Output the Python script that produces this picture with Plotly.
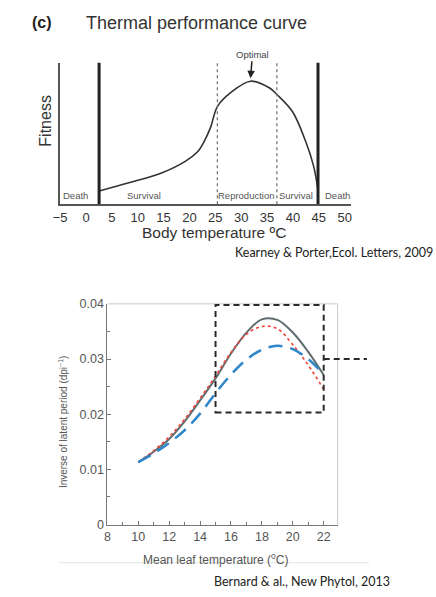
import plotly.graph_objects as go

W, H = 436, 597

# ---------- Data: thermal performance curve (top panel) ----------
body_temp = [2.53, 8.3, 14.6, 19.1, 21.6, 22.9, 24.1, 25.4, 27.9, 31.8, 35.5, 37.0, 39.9, 42.4, 44.0, 44.8]
fitness = [0.094, 0.152, 0.221, 0.301, 0.372, 0.448, 0.545, 0.69, 0.786, 0.869, 0.821, 0.772, 0.655, 0.45, 0.269, 0.11]
top_ticks = [-5, 0, 5, 10, 15, 20, 25, 30, 35, 40, 45, 50]
top_tick_text = ["\u22125", "0", "5", "10", "15", "20", "25", "30", "35", "40", "45", "50"]
ct_min, ct_max = 2.53, 44.85          # critical thermal limits (thick lines)
repro_lo, repro_hi = 25.4, 36.9       # reproduction window (dotted lines)
t_optimal, f_optimal = 31.8, 0.89
zone_labels = ["Death", "Survival", "Reproduction", "Survival", "Death"]
zone_x = [-2.0, 11.3, 31.0, 40.5, 48.6]

# ---------- Data: inverse latent period (bottom panel) ----------
leaf_temp = [10, 11, 12, 13, 14, 15, 16, 17, 18, 19, 20, 21, 22]
solid_vals = [0.0113, 0.0132, 0.0155, 0.0187, 0.0225, 0.0265, 0.0310, 0.0348, 0.0372, 0.0371, 0.0348, 0.0313, 0.0271]
dotted_vals = [0.0113, 0.0134, 0.0159, 0.0191, 0.0229, 0.0269, 0.0312, 0.0345, 0.0359, 0.0355, 0.0326, 0.0289, 0.0245]
dashed_vals = [0.0113, 0.0129, 0.0148, 0.0171, 0.0201, 0.0238, 0.0272, 0.0299, 0.0317, 0.0324, 0.0318, 0.0300, 0.0272]
bot_xticks = [8, 10, 12, 14, 16, 18, 20, 22]
bot_yticks = [0, 0.01, 0.02, 0.03, 0.04]
bot_ytick_text = ["0", "0.01", "0.02", "0.03", "0.04"]
box_x = [15, 22]
box_y = [0.0203, 0.0398]
ref_level = 0.03

# ---------- Layout geometry (page pixel -> paper) ----------
def px(x):
    return x / W

def py(y):
    return 1 - y / H

top_xrange = [-5, 51.3]
bot_xrange = [8, 22.9]
top_xdom = [px(54), px(350)]
top_ydom = [py(202), py(57)]
bot_xdom = [px(102), px(336)]
bot_ydom = [py(530), py(304)]

FONT = "Liberation Sans, Arial, Helvetica, sans-serif"
REF_FONT = "Lato, Open Sans, sans-serif"

fig = go.Figure()

fig.add_trace(go.Scatter(
    x=body_temp, y=fitness, mode="lines", line=dict(color="#333333", width=1.6, shape="spline", smoothing=1.0),
    xaxis="x", yaxis="y", showlegend=False, hoverinfo="skip"))

fig.add_trace(go.Scatter(
    x=leaf_temp, y=solid_vals, mode="lines", line=dict(color="#5f6d70", width=2, shape="spline"),
    xaxis="x2", yaxis="y2", showlegend=False))
fig.add_trace(go.Scatter(
    x=leaf_temp, y=dotted_vals, mode="lines", line=dict(color="#ee4a3f", width=1.7, dash="dot", shape="spline"),
    xaxis="x2", yaxis="y2", showlegend=False))
fig.add_trace(go.Scatter(
    x=leaf_temp, y=dashed_vals, mode="lines", line=dict(color="#2f86c9", width=2.5, dash="14px,8px", shape="spline"),
    xaxis="x2", yaxis="y2", showlegend=False))

shapes = []
for xv in (ct_min, ct_max):
    shapes.append(dict(type="line", xref="x", yref="y", x0=xv, x1=xv, y0=0, y1=1.02,
                       line=dict(color="#222222", width=3)))
for xv in (repro_lo, repro_hi):
    shapes.append(dict(type="line", xref="x", yref="y", x0=xv, x1=xv, y0=0, y1=1.035,
                       line=dict(color="#777777", width=1.3, dash="dot")))

shapes.append(dict(type="line", xref="x2 domain", yref="y2 domain", x0=0, x1=1, y0=1, y1=1,
                   line=dict(color="#c8c8c8", width=1)))
shapes.append(dict(type="line", xref="x2 domain", yref="y2 domain", x0=1, x1=1, y0=0, y1=1,
                   line=dict(color="#c8c8c8", width=1)))
shapes.append(dict(type="rect", xref="x2", yref="y2", x0=box_x[0], x1=box_x[1], y0=box_y[0], y1=box_y[1],
                   line=dict(color="#2a2a2a", width=2, dash="6px,4px")))

def xdom(v):
    return (v - bot_xrange[0]) / (bot_xrange[1] - bot_xrange[0])

shapes.append(dict(type="line", xref="x2 domain", yref="y2", x0=xdom(box_x[1]), x1=xdom(24.8),
                   y0=ref_level, y1=ref_level, line=dict(color="#2a2a2a", width=2, dash="6px,4px")))
shapes.append(dict(type="line", xref="paper", yref="paper", x0=px(52), x1=px(368), y0=py(569), y1=py(569),
                   line=dict(color="#e6e6e6", width=1)))

annotations = []
def ann(text, x, y, size, color="#333333", family=FONT, angle=0, xanchor="center"):
    annotations.append(dict(text=text, x=px(x), y=py(y), xref="paper", yref="paper", showarrow=False,
                            xanchor=xanchor, yanchor="middle", textangle=angle,
                            font=dict(size=size, color=color, family=family)))

ann("<b>(c)</b>", 36, 16, 16, "#222222")
ann("Thermal performance curve", 193, 16, 18, "#333333")
ann("Fitness", 39, 116, 16, "#333333", angle=-90)
ann("Body temperature ºC", 210, 231, 15.5, "#333333")
ann("Kearney & Porter,Ecol. Letters, 2009", 435, 251, 12.5, "#222222", REF_FONT, xanchor="right")
ann("Inverse of latent period (dpi<sup>\u22121</sup>)", 57, 425, 10, "#555555", angle=-90)
ann("Mean leaf temperature (<sup>o</sup>C)", 212, 565, 12, "#555555")
ann("Bernard & al., New Phytol, 2013", 300, 588, 12.5, "#222222", REF_FONT)

for lab, xv in zip(zone_labels, zone_x):
    annotations.append(dict(text=lab, x=xv, y=0.062, xref="x", yref="y", showarrow=False,
                            xanchor="center", yanchor="middle",
                            font=dict(size=9.5, color="#555555", family=FONT)))

annotations.append(dict(text="Optimal", x=t_optimal, y=f_optimal, xref="x", yref="y",
                        showarrow=True, arrowhead=2, arrowsize=1, arrowwidth=1.5, arrowcolor="#222222",
                        ax=2, ay=-24, font=dict(size=9.5, color="#444444", family=FONT)))

fig.update_layout(
    width=W, height=H, margin=dict(l=0, r=0, t=0, b=0),
    paper_bgcolor="white", plot_bgcolor="white",
    font=dict(family=FONT, color="#333333"),
    shapes=shapes, annotations=annotations,
    xaxis=dict(domain=top_xdom, range=top_xrange, tickmode="array", tickvals=top_ticks, ticktext=top_tick_text,
               showline=True, linecolor="#555555", linewidth=1.5, showgrid=False, zeroline=False,
               ticks="", tickfont=dict(size=13, color="#333333"), anchor="y"),
    yaxis=dict(domain=top_ydom, range=[0, 1], showline=True, linecolor="#555555", linewidth=1.5,
               showgrid=False, zeroline=False, showticklabels=False, ticks="", anchor="x"),
    xaxis2=dict(domain=bot_xdom, range=bot_xrange, tickmode="array", tickvals=bot_xticks,
                showline=True, linecolor="#777777", linewidth=1, showgrid=False, zeroline=False,
                ticks="inside", ticklen=4, tickcolor="#777777",
                minor=dict(dtick=1, tick0=8, ticks="inside", ticklen=2.5, tickcolor="#777777"),
                tickfont=dict(size=12.5, color="#555555"), anchor="y2"),
    yaxis2=dict(domain=bot_ydom, range=[0, 0.04], tickmode="array", tickvals=bot_yticks, ticktext=bot_ytick_text,
                showline=True, linecolor="#777777", linewidth=1, showgrid=False, zeroline=False,
                ticks="inside", ticklen=4, tickcolor="#777777",
                minor=dict(dtick=0.005, tick0=0, ticks="inside", ticklen=2.5, tickcolor="#777777"),
                tickfont=dict(size=12.5, color="#555555"), anchor="x2"),
)

fig.write_html("out.html", config={"displayModeBar": False},
               post_script="document.body.style.margin='0';document.body.style.overflow='hidden';")
